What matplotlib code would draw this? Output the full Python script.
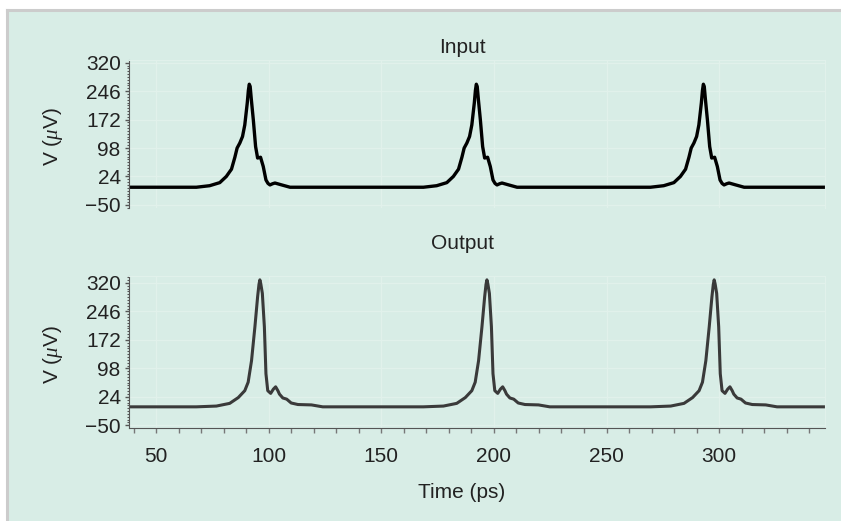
import matplotlib
matplotlib.use("Agg")
import matplotlib.pyplot as plt
from matplotlib.patches import Rectangle
from matplotlib.lines import Line2D
from matplotlib.ticker import FixedLocator, MultipleLocator, AutoMinorLocator

plt.rcParams['font.family'] = ['Liberation Sans', 'DejaVu Sans']
plt.rcParams['mathtext.fontset'] = 'custom'
plt.rcParams['mathtext.it'] = 'Liberation Serif:italic'

# pulse shapes (time from peak in ps, voltage in uV)
in_dt = [-23.5, -17.6, -13.1, -10.2, -7.9, -6.4, -5.4, -4.2, -3.0, -2.0, -0.9,
         -0.4, 0.0, 0.4, 0.9, 1.8, 2.8, 3.7, 5.0, 6.2, 7.4, 8.3, 9.2, 10.3, 11.4, 14.4, 18.1]
in_v = [-4, 0, 8, 24, 43, 74, 98, 111, 128, 158, 215,
        248, 264, 258, 225, 171, 102, 72, 74, 50, 15, 6, 2, 5, 7, 2, -4]
in_peaks = [91.4, 192.2, 293.0]

out_dt = [-28.2, -19.3, -13.4, -9.6, -6.7, -5.2, -3.7, -2.2, -1.0, -0.4, 0.0, 0.4,
          1.1, 2.0, 2.7, 3.5, 4.8, 6.0, 7.0, 8.0, 8.7, 10.2, 11.9, 13.9, 16.9, 22.9, 27.9]
out_v = [-2, 0, 7, 22, 40, 62, 118, 206, 284, 316, 328, 318,
         293, 206, 84, 40, 33, 44, 50, 40, 31, 21, 18, 8, 4, 3, -2]
out_peaks = [96.1, 196.9, 297.8]

t_min, t_max = 38, 347
yticks = [-50, 24, 98, 172, 246, 320]


def build(peaks, dt, v, base):
    t_all, v_all = [t_min], [base]
    for p in peaks:
        t_all += [p + d for d in dt]
        v_all += v
    t_all.append(t_max)
    v_all.append(base)
    return t_all, v_all


t_in, v_in = build(in_peaks, in_dt, in_v, -4)
t_out, v_out = build(out_peaks, out_dt, out_v, -2)

bg = '#d8ede6'
grid_c = '#e1f1eb'
spine_c = '#555555'
txt_c = '#222222'
fs = 15
W, H = 841, 521

fig = plt.figure(figsize=(W / 100, H / 100), dpi=100, facecolor='white')
# mint panel with a grey frame on the top and left only
fig.patches.append(Rectangle((6.5 / W, 0), 1, 1 - 9.5 / H, transform=fig.transFigure,
                             facecolor=bg, edgecolor='none', zorder=-10))
fig.lines.append(Line2D([6.5 / W, 6.5 / W], [0, 1 - 9.5 / H], transform=fig.transFigure,
                        color='#cccccc', lw=2.2, solid_capstyle='projecting'))
fig.lines.append(Line2D([6.5 / W, 1], [1 - 9.5 / H, 1 - 9.5 / H], transform=fig.transFigure,
                        color='#cccccc', lw=2.2, solid_capstyle='projecting'))

ax1 = fig.add_axes([129 / W, 1 - 208 / H, (825 - 129) / W, (208 - 60) / H])
ax2 = fig.add_axes([129 / W, 1 - 428 / H, (825 - 129) / W, (428 - 276) / H])

ax1.plot(t_in, v_in, color='black', lw=2.4, solid_joinstyle='round')
ax2.plot(t_out, v_out, color='#3a3a3a', lw=2.2, solid_joinstyle='round')

for ax, ylim in [(ax1, (-58, 327)), (ax2, (-57, 338))]:
    ax.set_facecolor('none')
    ax.set_xlim(t_min, t_max)
    ax.set_ylim(*ylim)
    ax.yaxis.set_major_locator(FixedLocator(yticks))
    ax.yaxis.set_minor_locator(AutoMinorLocator(10))
    ax.xaxis.set_major_locator(MultipleLocator(50))
    ax.xaxis.set_minor_locator(MultipleLocator(10))
    ax.grid(True, which='major', color=grid_c, lw=1.0)
    ax.set_axisbelow(True)
    for s in ['top', 'right']:
        ax.spines[s].set_color(grid_c)
    ax.spines['left'].set_color(spine_c)
    ax.spines['bottom'].set_color(spine_c)
    ax.tick_params(axis='y', which='major', length=3, width=1, color=spine_c,
                   labelsize=fs, labelcolor=txt_c, pad=3)
    ax.tick_params(axis='y', which='minor', length=1.8, width=0.8, color=spine_c)
    ax.tick_params(axis='x', which='both', length=3.5, width=1, color='#777777',
                   labelsize=fs, labelcolor=txt_c, pad=10)

ax1.spines['bottom'].set_visible(False)
ax1.tick_params(axis='x', which='both', bottom=False, labelbottom=False)

fig.text(462 / W, 1 - 47 / H, 'Input', ha='center', va='center', fontsize=fs, color=txt_c)
fig.text(462 / W, 1 - 243 / H, 'Output', ha='center', va='center', fontsize=fs, color=txt_c)
fig.text(462 / W, 1 - 493 / H, 'Time (ps)', ha='center', va='center', fontsize=fs, color=txt_c)
fig.text(53 / W, 1 - 137 / H, r'V ($\mu$V)', ha='center', va='center', rotation=90,
         fontsize=fs, color=txt_c)
fig.text(53 / W, 1 - 355 / H, r'V ($\mu$V)', ha='center', va='center', rotation=90,
         fontsize=fs, color=txt_c)

fig.savefig('out.png', dpi=100, facecolor='white')
